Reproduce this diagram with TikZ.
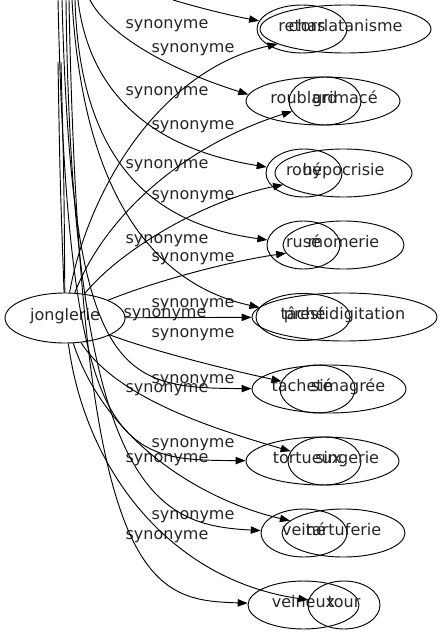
\documentclass[tikz,border=0pt]{standalone}
\usepackage{fontspec}
\setmainfont{DejaVu Sans}
\usetikzlibrary{arrows.meta,shapes.geometric}

\tikzset{
  lbl/.style={font=\fontsize{12}{14}\selectfont, inner sep=0pt, text=black!85,
    text height=7pt, text depth=3.2pt},
  syn/.style 2 args={draw, ellipse, lbl, minimum width=#1*1.5pt, minimum height=#2*1.5pt},
  rel/.style={draw, -{Triangle[length=7.5pt,width=5.5pt]}},
}

\begin{document}
\begin{tikzpicture}[x=0.75pt, y=-0.75pt, line width=0.7pt]
  \useasboundingbox (0,0) rectangle (442,635);
  \clip (0,0) rectangle (442,635);

  % centre node
  \node[syn={60}{25}] (jonglerie) at (65,318) {jonglerie};

  % left column of the overlay
  \node[syn={45}{24}] (retors) at (302,29) {retors};
  \node[syn={77}{24}, label={[lbl,xshift=-14.25pt]center:roublard}] (roublard) at (323,101) {};
  \node[syn={38}{24}] (roue) at (304,173) {roué};
  \node[syn={36.5}{24}] (ruse) at (303.5,245) {rusé};
  \node[syn={47}{23.5}] (tache) at (303,317) {tâché};
  \node[syn={77}{24}, label={[lbl,xshift=-20.25pt]center:tacheté}] (tachete) at (329,389) {};
  \node[syn={76.5}{24}, label={[lbl,xshift=-11.6pt]center:tortueux}] (tortueux) at (322.5,461) {};
  \node[syn={43}{24}] (veine) at (304,533) {veiné};
  \node[syn={55.5}{24}] (veineux) at (303.5,605) {veineux};

  % right column of the overlay
  \node[syn={85.5}{24}] (charlatanisme) at (345.5,29) {charlatanisme};
  \node[syn={36}{24}, label={[lbl,xshift=15pt]center:grimacé}] (grimace) at (325,101) {};
  \node[syn={68.5}{24}] (hypocrisie) at (343.5,173) {hypocrisie};
  \node[syn={60.5}{24}] (momerie) at (343.5,245) {momerie};
  \node[syn={92.5}{24}] (prestidigitation) at (344.5,317) {prestidigitation};
  \node[syn={37.5}{24}, label={[lbl,xshift=22.9pt]center:simagrée}] (simagree) at (317.5,389) {};
  \node[syn={36.5}{24}, label={[lbl,xshift=17pt]center:singerie}] (singerie) at (324.5,461) {};
  \node[syn={61.5}{24}] (tartuferie) at (343.5,533) {tartuferie};
  \node[syn={36}{24}] (tour) at (344,605) {tour};

  % edge labels
  \foreach \x/\y [count=\i] in {167/26, 193/50, 167/93, 193/127, 167/166, 193/197,
      167/241, 193/259, 193/305, 165/315, 193/335, 193/381, 167/390, 193/445,
      167/460, 193/517, 167/537}
    \node[lbl] (lab\i) at (\x,\y) {synonyme};

  % edges out of jonglerie
  \draw[rel] (jonglerie) .. controls (88,190) and (160,70) .. (charlatanisme);
  \draw[rel] (jonglerie) .. controls (105,215) and (185,145) .. (grimace);
  \draw[rel] (jonglerie) .. controls (120,250) and (205,200) .. (hypocrisie);
  \draw[rel] (jonglerie) .. controls (150,283) and (225,262) .. (momerie);
  \draw[rel] (jonglerie) -- (prestidigitation);
  \draw[rel] (jonglerie) .. controls (150,350) and (220,368) .. (simagree);
  \draw[rel] (jonglerie) .. controls (115,395) and (200,425) .. (singerie);
  \draw[rel] (jonglerie) .. controls (105,440) and (200,500) .. (tartuferie);
  \draw[rel] (jonglerie) .. controls (85,470) and (170,580) .. (tour);

  % two loose strokes above jonglerie
  \coordinate (stub1) at (58,62);
  \coordinate (stub2) at (61,62);
  \draw (stub1) .. controls (60,180) .. (jonglerie);
  \draw (stub2) .. controls (64,180) .. (jonglerie);

  % edges coming in from above the frame
  \coordinate (top1) at (173,0);
  \coordinate (top2) at (90,0);
  \coordinate (top3) at (78,0);
  \coordinate (top4) at (75,0);
  \coordinate (top5) at (72,0);
  \coordinate (top6) at (62,0);
  \coordinate (top7) at (58,0);
  \coordinate (top8) at (66,0);
  \coordinate (top9) at (69,0);
  \draw[rel] (top1) .. controls (200,8) and (228,15) .. (retors);
  \draw[rel] (top2) .. controls (108,35) and (170,70) .. (roublard.175);
  \draw[rel] (top3) .. controls (90,100) and (160,150) .. (roue);
  \draw[rel] (top4) .. controls (80,170) and (160,225) .. (ruse);
  \draw[rel] (top5) .. controls (85,230) and (180,290) .. (tache);
  \draw[rel] (top6) .. controls (72,380) and (120,388) .. (tachete);
  \draw[rel] (top7) .. controls (68,460) and (120,460) .. (tortueux);
  \draw[rel] (top8) .. controls (72,500) and (160,525) .. (veine);
  \draw[rel] (top9) .. controls (80,590) and (150,600) .. (veineux);
\end{tikzpicture}
\end{document}
